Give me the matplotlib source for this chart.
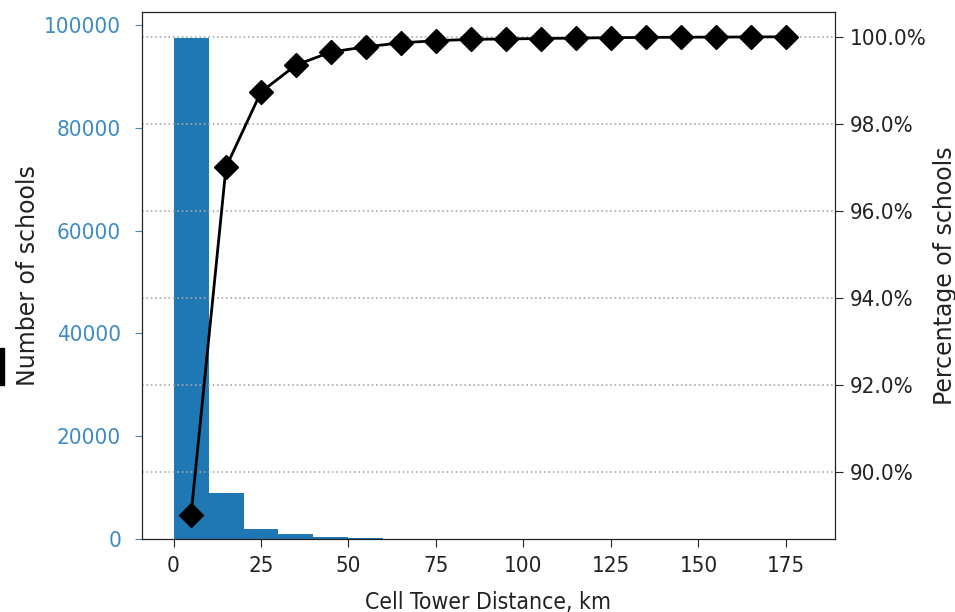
import numpy as np
import matplotlib.pyplot as plt
from matplotlib.ticker import PercentFormatter
from matplotlib.patches import Rectangle

# histogram counts per 10 km bin
bin_edges = [0, 10, 20, 30, 40, 50, 60, 70, 80, 90, 100, 110, 120, 130, 140, 150, 160, 170]
counts = [97470, 9000, 1890, 970, 450, 150, 80, 50, 35, 25, 20, 15, 10, 8, 6, 5, 4, 3]

# cumulative percentage at bin centres
centres = [5, 15, 25, 35, 45, 55, 65, 75, 85, 95, 105, 115, 125, 135, 145, 155, 165, 175]
cum_pct = [89.0, 97.0, 98.73, 99.35, 99.65, 99.77, 99.86, 99.91, 99.94, 99.95,
           99.96, 99.97, 99.98, 99.985, 99.99, 99.993, 99.996, 100.0]

plt.rcParams['font.family'] = ['DejaVu Sans']
plt.rcParams['font.stretch'] = 'condensed'
plt.rcParams['font.size'] = 16

fig = plt.figure(figsize=(9.55, 6.12), dpi=100)
ax = fig.add_axes([0.1487, 0.1193, 0.7256, 0.8611])

ax.bar(bin_edges, counts, width=10, align='edge', color='#1f77b4')
ax.set_xlabel('Cell Tower Distance, km', color='#222222', fontsize=16.5, labelpad=11)
ax.set_ylabel('Number of schools', color='#222222', fontsize=17, fontstretch='normal')
ax.yaxis.set_label_coords(-0.147, 0.5)
ax.tick_params(axis='y', colors='#3d8bc3', length=5, pad=10)
ax.tick_params(axis='x', colors='#222222', length=6, pad=6)
ax.set_xticks([0, 25, 50, 75, 100, 125, 150, 175])
ax.set_xlim(-9, 189)
ax.set_ylim(0, 102500)
ax.set_yticks([0, 20000, 40000, 60000, 80000, 100000])

ax2 = ax.twinx()
ax2.plot(centres, cum_pct, '-', color='black', marker='D', markersize=12, linewidth=2)
ax2.yaxis.set_major_formatter(PercentFormatter(xmax=100, decimals=1))
ax2.set_ylim(88.45, 100.57)
ax2.set_yticks([90, 92, 94, 96, 98, 100])
ax2.set_ylabel('Percentage of schools', color='#222222', fontsize=17, fontstretch='normal')
ax2.yaxis.set_label_coords(1.141, 0.5)
ax2.tick_params(axis='y', colors='#222222', length=6, pad=5)
ax2.grid(axis='y', linestyle=':', color='#aaaaaa', linewidth=1.2)

for a in (ax, ax2):
    for s in a.spines.values():
        s.set_color('#222222')

# small black mark on the left edge
fig.patches.append(Rectangle((0, 1 - 385 / 612), 4 / 955, 37 / 612,
                             transform=fig.transFigure, color='black'))

fig.savefig('out.png', dpi=100)
